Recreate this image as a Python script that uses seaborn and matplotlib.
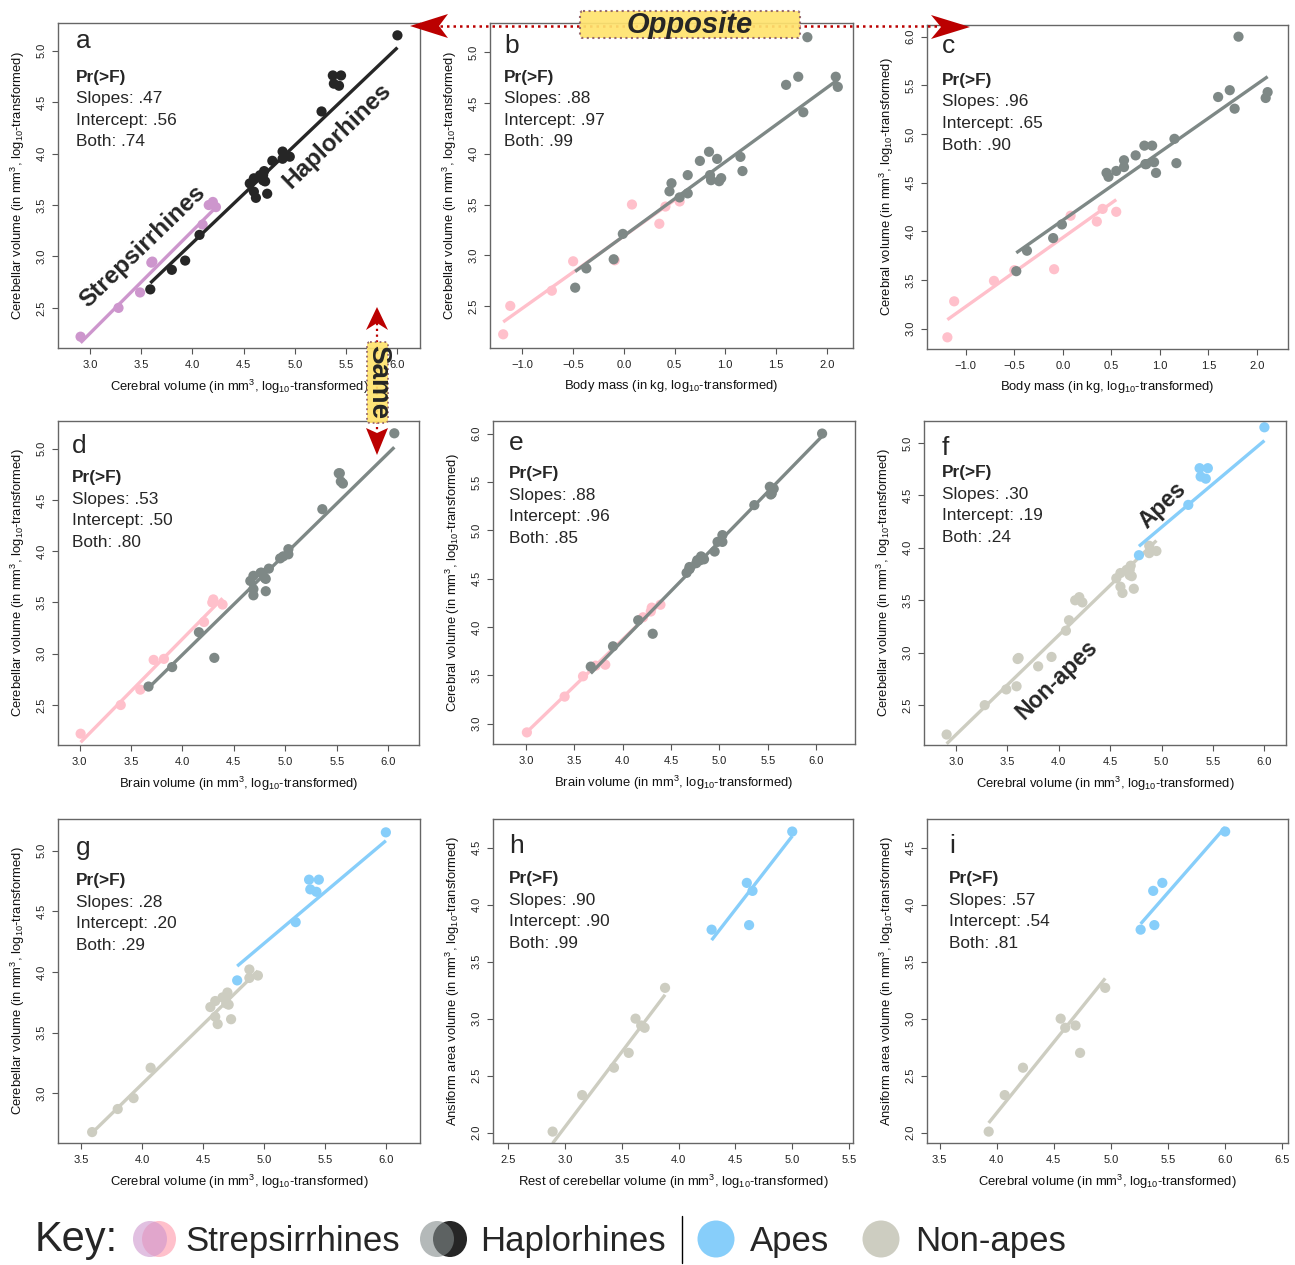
import numpy as np
import matplotlib
matplotlib.use("Agg")
import matplotlib.pyplot as plt
from matplotlib.patches import Ellipse, Polygon, FancyBboxPatch
import seaborn as sns

# log10 values per species
strep_mass = [-1.19, -1.12, -0.71, -0.50, -0.09, 0.08, 0.35, 0.41, 0.55]
strep_cerebellum = [2.22, 2.50, 2.65, 2.94, 2.95, 3.50, 3.31, 3.48, 3.53]
strep_cerebrum = [2.91, 3.28, 3.49, 3.60, 3.61, 4.16, 4.10, 4.23, 4.20]
strep_brain = [3.01, 3.40, 3.59, 3.72, 3.82, 4.29, 4.21, 4.39, 4.30]

hap_mass = [-0.48, -0.37, -0.10, -0.01, 0.45, 0.47, 0.55, 0.63, 0.63, 0.75, 0.84, 0.85,
            0.86, 0.92, 0.94, 0.96, 1.15, 1.17, 1.60, 1.72, 1.77, 1.81, 2.09, 2.11]
hap_cerebellum = [2.68, 2.87, 2.96, 3.21, 3.63, 3.71, 3.57, 3.61, 3.79, 3.93, 4.02, 3.79,
                  3.74, 3.95, 3.73, 3.76, 3.97, 3.83, 4.68, 4.76, 4.41, 5.15, 4.76, 4.66]
hap_cerebrum = [3.59, 3.80, 3.93, 4.07, 4.60, 4.56, 4.62, 4.73, 4.66, 4.78, 4.88, 4.69,
                4.69, 4.88, 4.71, 4.60, 4.95, 4.70, 5.38, 5.45, 5.26, 6.00, 5.37, 5.43]
hap_brain = [3.67, 3.90, 4.31, 4.16, 4.69, 4.66, 4.69, 4.81, 4.76, 4.95, 5.03, 4.77,
             4.80, 4.98, 4.81, 4.69, 5.03, 4.84, 5.54, 5.52, 5.36, 6.06, 5.53, 5.56]
hap_is_ape = [0, 0, 0, 0, 0, 0, 0, 0, 0, 1, 0, 0, 0, 0, 0, 0, 0, 0, 1, 1, 1, 1, 1, 1]

# ansiform area data set (h, i)
ansi_nonape = [2.01, 2.33, 2.57, 2.70, 3.00, 2.92, 2.94, 3.27]
rest_cb_nonape = [2.89, 3.15, 3.43, 3.56, 3.62, 3.70, 3.67, 3.88]
cereb_ansi_nonape = [3.93, 4.07, 4.23, 4.73, 4.56, 4.60, 4.69, 4.95]
ansi_ape = [3.78, 3.82, 4.12, 4.19, 4.64]
rest_cb_ape = [4.29, 4.62, 4.65, 4.60, 5.00]
cereb_ansi_ape = [5.26, 5.38, 5.37, 5.45, 6.00]

# fitted lines (intercept, slope) per group as drawn in each panel
fit_a = [(-0.740, 0.997), (-0.669, 0.950)]
fit_b = [(3.188, 0.711), (3.190, 0.730)]
fit_c = [(3.935, 0.709), (4.114, 0.699)]
fit_d = [(-0.928, 1.018), (-0.937, 0.982)]
fit_e = [(0.000, 0.968), (-0.245, 1.026)]
fit_f = [(-0.633, 0.950), (0.067, 0.826)]
fit_g = [(-0.848, 0.981), (-0.001, 0.847)]
fit_h = [(-1.893, 1.315), (-1.820, 1.284)]
fit_i = [(-2.795, 1.242), (-2.192, 1.145)]

# Pr(>F): slopes, intercept, both
pvals = {
    "a": (".47", ".56", ".74"), "b": (".88", ".97", ".99"), "c": (".96", ".65", ".90"),
    "d": (".53", ".50", ".80"), "e": (".88", ".96", ".85"), "f": (".30", ".19", ".24"),
    "g": (".28", ".20", ".29"), "h": (".90", ".90", ".99"), "i": (".57", ".54", ".81"),
}

PLUM, DARK, PINK, GREY = "#CD96CD", "#262626", "#FFC0CB", "#7E8886"
APE, NONAPE = "#87CEFA", "#CDCDC1"

sns.set_style("ticks")
plt.rcParams['font.family'] = ['Liberation Sans', 'DejaVu Sans']
plt.rcParams['mathtext.fontset'] = 'custom'
plt.rcParams['mathtext.rm'] = 'Liberation Sans'
plt.rcParams['mathtext.it'] = 'Liberation Sans:italic'
plt.rcParams['mathtext.bf'] = 'Liberation Sans:bold'

W, H = 1295, 1265
fig = plt.figure(figsize=(W / 100, H / 100), dpi=100)

tail = " (in mm$^3$, log$_{10}$-transformed)"
lab_cb = "Cerebellar volume" + tail
lab_cr = "Cerebral volume" + tail
lab_br = "Brain volume" + tail
lab_bm = "Body mass (in kg, log$_{10}$-transformed)"
lab_an = "Ansiform area volume" + tail
lab_rest = "Rest of cerebellar volume" + tail

sm, sb = np.array(strep_mass), np.array(strep_cerebellum)
sc, sr = np.array(strep_cerebrum), np.array(strep_brain)
hm, hb = np.array(hap_mass), np.array(hap_cerebellum)
hc, hr = np.array(hap_cerebrum), np.array(hap_brain)
ape = np.array(hap_is_ape) == 1


def panel(rect, groups, fits, letter, xlim, ylim, xticks, yticks, xlabel, ylabel, dx, lbase, pbase):
    l, t, r, b = rect
    ax = fig.add_axes([l / W, 1 - b / H, (r - l) / W, (b - t) / H])
    for (x, y, col), (a0, a1) in zip(groups, fits):
        x = np.asarray(x)
        y = np.asarray(y)
        sns.scatterplot(x=x, y=y, ax=ax, color=col, s=54, linewidth=0, edgecolor='none',
                        alpha=1, zorder=2, legend=False)
        xs = np.array([x.min(), x.max()])
        sns.lineplot(x=xs, y=a0 + a1 * xs, ax=ax, color=col, lw=2.4, zorder=2,
                     legend=False, solid_capstyle='butt')
    ax.set_xlim(xlim)
    ax.set_ylim(ylim)
    ax.set_xticks(xticks)
    ax.set_yticks(yticks)
    ax.xaxis.set_major_formatter('{x:.1f}')
    ax.yaxis.set_major_formatter('{x:.1f}')
    ax.tick_params(direction='out', length=4.3, width=0.8, color='#555555',
                   labelsize=8, labelcolor='#222222')
    ax.tick_params(axis='x', pad=4.5)
    ax.tick_params(axis='y', pad=4.0, labelrotation=90)
    for lbl in ax.get_yticklabels():
        lbl.set_va('center')
    for sp in ax.spines.values():
        sp.set_color('#666666')
        sp.set_linewidth(1.0)
    ax.set_xlabel(xlabel, fontsize=9.4, labelpad=5.5, color='#111111')
    ax.set_ylabel(ylabel, fontsize=9.4, labelpad=7, color='#111111')
    aw, ah = r - l, b - t
    ax.text(dx / aw, 1 - lbase / ah, letter, transform=ax.transAxes, fontsize=19,
            va='baseline', ha='left')
    lines = ["Slopes: %s", "Intercept: %s", "Both: %s"]
    ax.text(dx / aw, 1 - pbase / ah, "Pr(>F)", transform=ax.transAxes, fontsize=12.4,
            fontweight='bold', va='baseline', ha='left')
    for k, (fmt, v) in enumerate(zip(lines, pvals[letter])):
        ax.text(dx / aw, 1 - (pbase + 21.5 * (k + 1)) / ah, fmt % v, transform=ax.transAxes,
                fontsize=12.4, va='baseline', ha='left')
    return ax


t05 = np.arange(0, 16) * 0.5 - 1.0   # -1.0 ... 6.5

ax_a = panel((58, 23, 420, 348), [(sc, sb, PLUM), (hc, hb, DARK)], fit_a, "a",
             (2.69, 6.22), (2.11, 5.27), t05[8:15], t05[7:13], lab_cr, lab_cb, 18, 25, 59)
ax_a.text(3.514, 3.094, "Strepsirrhines", fontsize=17.5, fontweight='bold', rotation=44,
          rotation_mode='anchor', ha='center', va='center')
ax_a.text(5.415, 4.172, "Haplorhines", fontsize=17.5, fontweight='bold', rotation=44,
          rotation_mode='anchor', ha='center', va='center')

panel((490, 23, 853, 348), [(sm, sb, PINK), (hm, hb, GREY)], fit_b, "b",
      (-1.32, 2.26), (2.085, 5.29), t05[0:7], t05[7:13], lab_bm, lab_cb, 14, 30, 59)
panel((927, 25, 1288, 349), [(sm, sc, PINK), (hm, hc, GREY)], fit_c, "c",
      (-1.40, 2.32), (2.79, 6.12), t05[0:7], t05[8:15], lab_bm, lab_cr, 15, 28, 60)
panel((58, 421, 419, 745), [(sr, sb, PINK), (hr, hb, GREY)], fit_d, "d",
      (2.79, 6.30), (2.11, 5.27), t05[8:15], t05[7:13], lab_br, lab_cb, 14, 32, 61)
panel((493, 421, 855, 744), [(sr, sc, PINK), (hr, hc, GREY)], fit_e, "e",
      (2.66, 6.40), (2.79, 6.13), t05[8:15], t05[8:15], lab_br, lab_cr, 16, 29, 57)

ax_f = panel((924, 421, 1286, 745),
             [(np.r_[sc, hc[~ape]], np.r_[sb, hb[~ape]], NONAPE), (hc[ape], hb[ape], APE)], fit_f, "f",
             (2.69, 6.21), (2.12, 5.21), t05[8:15], t05[7:13], lab_cr, lab_cb, 18, 34, 56)
ax_f.text(5.011, 4.411, "Apes", fontsize=16.5, fontweight='bold', rotation=44,
          rotation_mode='anchor', ha='center', va='center')
ax_f.text(3.983, 2.739, "Non-apes", fontsize=16.5, fontweight='bold', rotation=44,
          rotation_mode='anchor', ha='center', va='center')

panel((58, 819, 420, 1143), [(hc[~ape], hb[~ape], NONAPE), (hc[ape], hb[ape], APE)], fit_g, "g",
      (3.31, 6.28), (2.59, 5.26), t05[9:15], t05[8:13], lab_cr, lab_cb, 18, 36, 66)
panel((493, 819, 853, 1143), [(rest_cb_nonape, ansi_nonape, NONAPE), (rest_cb_ape, ansi_ape, APE)],
      fit_h, "h", (2.365, 5.535), (1.91, 4.75), t05[7:14], t05[6:12], lab_rest, lab_an, 16, 34, 64)
panel((927, 819, 1288, 1143), [(cereb_ansi_nonape, ansi_nonape, NONAPE), (cereb_ansi_ape, ansi_ape, APE)],
      fit_i, "i", (3.39, 6.55), (1.91, 4.75), t05[9:16], t05[6:12], lab_cr, lab_an, 22, 34, 64)

# overlay in pixel coordinates for annotations and key
ov = fig.add_axes([0, 0, 1, 1])
ov.set_xlim(0, W)
ov.set_ylim(H, 0)
ov.axis('off')
ov.patch.set_alpha(0)

RED = "#BB0000"
ov.plot([440, 941], [26, 26], color=RED, lw=1.8, ls=(0, (1, 1.6)), zorder=1)
ov.add_patch(FancyBboxPatch((580, 11), 220, 27, boxstyle="round,pad=0,rounding_size=3",
                            fc="#FFE36E", ec="#8E5E66", lw=1.5, ls=':', alpha=0.92, zorder=2))
ov.text(690, 25, "Opposite", fontsize=21, fontweight='bold', fontstyle='italic',
        ha='center', va='center', zorder=3)
ov.add_patch(Polygon([(410, 26), (448, 14), (439, 26), (448, 38)], closed=True, fc=RED, ec='none'))
ov.add_patch(Polygon([(970, 27), (931, 15), (941, 27), (931, 39)], closed=True, fc=RED, ec='none'))

ov.plot([377, 377], [323, 430], color=RED, lw=1.6, ls=(0, (1, 1.6)), zorder=1)
ov.add_patch(FancyBboxPatch((367, 342), 21, 81, boxstyle="round,pad=0,rounding_size=3",
                            fc="#FFE36E", ec="#8E5E66", lw=1.3, ls=':', alpha=0.92, zorder=2))
ov.text(378, 382, "Same", fontsize=20, fontweight='bold', rotation=-90,
        ha='center', va='center', zorder=3)
ov.add_patch(Polygon([(377, 307), (366, 330), (377, 323), (388, 330)], closed=True, fc=RED, ec='none'))
ov.add_patch(Polygon([(377, 455), (366, 428), (377, 433), (388, 428)], closed=True, fc=RED, ec='none'))

# key
kb = 1251
ov.text(35, kb, "Key:", fontsize=30, va='baseline', ha='left')
ov.add_patch(Ellipse((159, 1239), 34, 36, fc=PINK, ec='none'))
ov.add_patch(Ellipse((150, 1239), 34, 36, fc=PLUM, ec='none', alpha=0.6))
ov.text(185, kb, "Strepsirrhines", fontsize=25, va='baseline', ha='left')
ov.add_patch(Ellipse((450, 1239), 34, 36, fc=DARK, ec='none'))
ov.add_patch(Ellipse((437, 1239), 34, 36, fc="#838B8B", ec='none', alpha=0.6))
ov.text(480, kb, "Haplorhines", fontsize=25, va='baseline', ha='left')
ov.plot([682, 682], [1216, 1263], color='black', lw=1.0)
ov.add_patch(Ellipse((716, 1239), 37, 37, fc=APE, ec='none'))
ov.text(750, kb, "Apes", fontsize=25, va='baseline', ha='left')
ov.add_patch(Ellipse((881, 1239), 37, 37, fc=NONAPE, ec='none'))
ov.text(915, kb, "Non-apes", fontsize=25, va='baseline', ha='left')

fig.savefig("out.png", dpi=100)
